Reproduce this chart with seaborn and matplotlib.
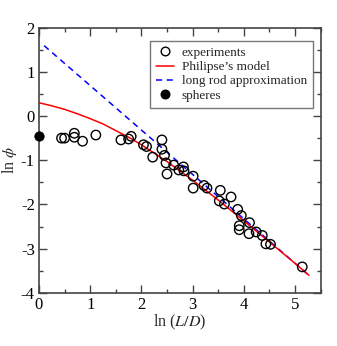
import matplotlib
matplotlib.use("Agg")
import matplotlib.pyplot as plt
import seaborn as sns
from matplotlib.ticker import MultipleLocator
from matplotlib.lines import Line2D

# experiments: ln(L/D), ln(phi)
exp_x = [0.44, 0.50, 0.69, 0.69, 0.85, 1.11, 1.60, 1.75, 1.80, 2.04, 2.10,
         2.22, 2.40, 2.40, 2.45, 2.48, 2.50, 2.63, 2.73, 2.82, 2.83, 3.01,
         3.01, 3.22, 3.28, 3.54, 3.52, 3.62, 3.75, 3.88, 3.95, 3.91, 3.91,
         4.11, 4.10, 4.24, 4.36, 4.43, 4.52, 5.14]
exp_y = [-0.50, -0.50, -0.39, -0.48, -0.57, -0.43, -0.54, -0.52, -0.46, -0.65, -0.69,
         -0.93, -0.54, -0.75, -0.89, -1.06, -1.31, -1.11, -1.22, -1.15, -1.24, -1.36,
         -1.63, -1.57, -1.63, -1.68, -1.92, -1.99, -1.83, -2.11, -2.25, -2.48, -2.57,
         -2.41, -2.66, -2.62, -2.70, -2.89, -2.90, -3.41]

# spheres
sph_x = [0.0]
sph_y = [-0.455]

# Philipse's model
model_x = [0.0, 0.25, 0.5, 0.75, 1.0, 1.25, 1.5, 1.75, 2.0, 2.25, 2.5, 2.75,
           3.0, 3.5, 4.0, 4.5, 5.0, 5.27]
model_y = [0.30, 0.23, 0.15, 0.05, -0.06, -0.18, -0.33, -0.48, -0.65, -0.84,
           -1.03, -1.24, -1.45, -1.90, -2.37, -2.85, -3.33, -3.60]

# long rod approximation
rod_x = [0.1, 5.27]
rod_y = [1.59, -3.60]

sns.set_style("ticks")
plt.rcParams["font.family"] = ["Liberation Serif", "DejaVu Serif"]
plt.rcParams["mathtext.fontset"] = "stix"
plt.rcParams["axes.unicode_minus"] = False

fig = plt.figure(figsize=(3.37, 3.46), dpi=100)
ax = fig.add_axes([0.1157, 0.1532, 0.8359, 0.7673])

sns.lineplot(x=rod_x, y=rod_y, ax=ax, color="blue", lw=1.1,
             linestyle=(0, (4, 3)), sort=False)
sns.lineplot(x=model_x, y=model_y, ax=ax, color="red", lw=1.1, sort=False)
sns.scatterplot(x=exp_x, y=exp_y, ax=ax, marker="o", s=46,
                facecolor="none", edgecolor="black", linewidth=1.0, zorder=3)
sns.scatterplot(x=sph_x, y=sph_y, ax=ax, marker="o", s=46,
                color="black", edgecolor="black", zorder=4, clip_on=False)

ax.set_xlim(0, 5.5)
ax.set_ylim(-4, 2)
ax.xaxis.set_major_locator(MultipleLocator(1))
ax.xaxis.set_minor_locator(MultipleLocator(0.5))
ax.yaxis.set_major_locator(MultipleLocator(1))
ax.yaxis.set_minor_locator(MultipleLocator(0.5))
ax.tick_params(which="both", direction="in", top=True, right=True,
               labelsize=12, colors="#444444", labelcolor="black")
ax.tick_params(which="major", length=6, width=1, pad=3)
ax.tick_params(which="minor", length=3, width=1)
for sp in ax.spines.values():
    sp.set_color("#444444")
    sp.set_linewidth(1.2)

ax.set_xlabel(r"ln ($L/D$)", fontsize=11.5, labelpad=0)
ax.set_ylabel(r"ln $\phi$", fontsize=11.5)
ax.yaxis.set_label_coords(-0.072, 0.5)

handles = [
    Line2D([], [], marker="o", ls="none", mfc="none", mec="black", ms=6.2, mew=1.0),
    Line2D([], [], color="red", lw=1.1),
    Line2D([], [], color="blue", lw=1.1, ls=(0, (4, 3))),
    Line2D([], [], marker="o", ls="none", color="black", ms=6.2),
]
labels = ["experiments", "Philipse\u2019s model", "long rod approximation", "spheres"]
leg = ax.legend(handles, labels, loc="upper right", bbox_to_anchor=(0.973, 0.950),
                borderaxespad=0, fontsize=9.5, frameon=True, fancybox=False,
                handlelength=1.4, handletextpad=0.6, labelspacing=0.15,
                borderpad=0.45)
leg.get_frame().set_edgecolor("#555555")
leg.get_frame().set_linewidth(1.0)

fig.savefig("out.png", dpi=100)
